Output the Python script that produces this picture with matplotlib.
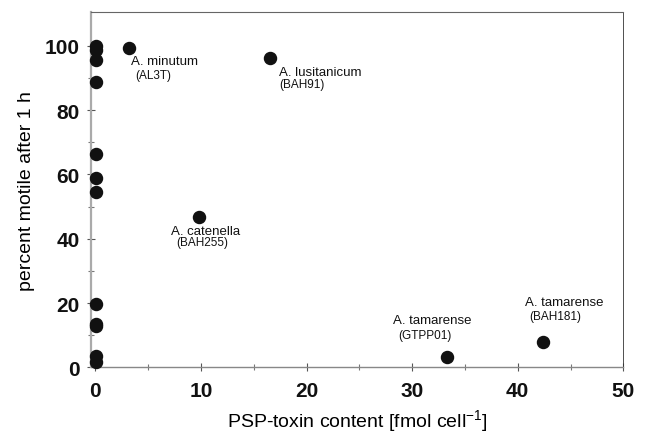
import numpy as np
import matplotlib
matplotlib.use('Agg')
import matplotlib.pyplot as plt

plt.rcParams['font.family'] = ['Liberation Sans', 'DejaVu Sans']

# strains with no toxin (all at x = 0)
zero_toxin_x = [0.03] * 12
zero_toxin_y = [100.0, 98.7, 95.5, 88.7, 66.3, 58.9, 54.4, 19.7, 13.4, 12.8, 3.6, 1.5]

# toxic strains
toxic_x = [3.16, 16.5, 9.85, 33.3, 42.4]
toxic_y = [99.3, 96.3, 46.9, 3.3, 7.8]
species = ['A. minutum', 'A. lusitanicum', 'A. catenella', 'A. tamarense', 'A. tamarense']
strains = ['(AL3T)', '(BAH91)', '(BAH255)', '(GTPP01)', '(BAH181)']

fig = plt.figure(figsize=(6.49, 4.35), dpi=100)
ax = fig.add_axes([0.1398, 0.1533, 0.8206, 0.8167])

ax.scatter(zero_toxin_x, zero_toxin_y, s=75, color='#111111', zorder=3, clip_on=False)
ax.scatter(toxic_x, toxic_y, s=75, color='#111111', zorder=3, clip_on=False)

# label offsets in data units (name, strain)
name_off = [(0.2, -3.9), (0.9, -4.5), (0.55, -4.5), (-1.4, 11.4), (2.05, 12.4)]
strain_off = [(0.6, -8.4), (0.9, -8.3), (0.25, -8.0), (-2.1, 6.75), (1.15, 8.1)]
name_ha = ['left', 'left', 'center', 'center', 'center']
for i in range(len(toxic_x)):
    ax.text(toxic_x[i] + name_off[i][0], toxic_y[i] + name_off[i][1], species[i],
            fontsize=9.5, ha=name_ha[i], va='center', color='#111111')
    ax.text(toxic_x[i] + strain_off[i][0], toxic_y[i] + strain_off[i][1], strains[i],
            fontsize=8.5, ha=name_ha[i], va='center', color='#111111')

ax.set_xlim(-0.44, 50)
ax.set_ylim(0, 110.5)
ax.set_xticks([0, 10, 20, 30, 40, 50])
ax.set_xticks([5, 15, 25, 35, 45], minor=True)
ax.set_yticks([0, 20, 40, 60, 80, 100])
ax.set_yticks([10, 30, 50, 70, 90], minor=True)

for lbl in ax.get_xticklabels() + ax.get_yticklabels():
    lbl.set_fontweight('bold')
    lbl.set_fontsize(15)
ax.tick_params(axis='both', which='major', direction='inout', length=6, width=0.8,
               color='#555555', labelcolor='#111111')
ax.tick_params(axis='both', which='minor', direction='inout', length=4, width=0.8, color='#777777')
ax.tick_params(axis='x', pad=7)
ax.tick_params(axis='y', pad=5)

ax.spines['left'].set_color('#aaaaaa')
ax.spines['left'].set_linewidth(1.6)
ax.spines['bottom'].set_color('#888888')
ax.spines['bottom'].set_linewidth(1.0)
ax.spines['top'].set_color('#666666')
ax.spines['top'].set_linewidth(0.8)
ax.spines['right'].set_color('#333333')
ax.spines['right'].set_linewidth(0.6)

ax.set_xlabel('PSP-toxin content [fmol cell$^{\\mathregular{-1}}$]', fontsize=14, labelpad=5)
ax.set_ylabel('percent motile after 1 h', fontsize=14, labelpad=7)

fig.savefig('out.png', dpi=100)
